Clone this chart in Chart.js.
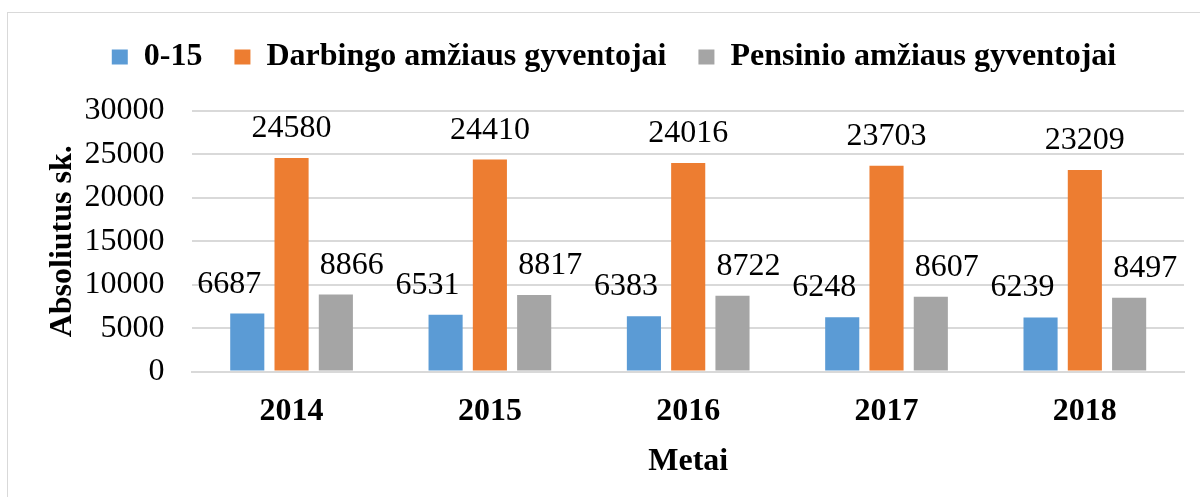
<!DOCTYPE html>
<html>
<head>
<meta charset="utf-8">
<script src="https://cdn.jsdelivr.net/npm/chart.js@4.4.1/dist/chart.umd.min.js"></script>
<style>
  html, body { margin: 0; padding: 0; background: #fff; overflow: hidden; }
  #frame {
    position: absolute; left: 7px; top: 12px;
    width: 1220px; height: 490px;
    border: 1px solid #d9d9d9;
  }
  #chart { display: block; }
</style>
</head>
<body>
<div id="frame"><canvas id="chart" width="1186" height="490"></canvas></div>
<script>
// Chart data
const YEARS = ['2014', '2015', '2016', '2017', '2018'];
const CHILDREN = [6687, 6531, 6383, 6248, 6239];
const WORKING_AGE = [24580, 24410, 24016, 23703, 23209];
const PENSION_AGE = [8866, 8817, 8722, 8607, 8497];
const Y_TICKS = [0, 5000, 10000, 15000, 20000, 25000, 30000];

const SERIF = "'Liberation Serif', 'Times New Roman', serif";

// value labels above bars, nudged sideways the way Excel spreads them
const valueLabels = {
  id: 'valueLabels',
  afterDatasetsDraw(chart) {
    const ctx = chart.ctx;
    const shift = [-18, 0, 16];
    ctx.save();
    ctx.font = '32px ' + SERIF;
    ctx.fillStyle = '#000';
    ctx.textAlign = 'center';
    ctx.textBaseline = 'alphabetic';
    chart.data.datasets.forEach((ds, i) => {
      chart.getDatasetMeta(i).data.forEach((bar, j) => {
        ctx.fillText(ds.data[j], bar.x + shift[i], bar.y - 21);
      });
    });
    ctx.restore();
  }
};

// extra room between legend and plot, and nudge the legend a bit right
const legendGap = {
  id: 'legendGap',
  beforeInit(chart) {
    const fit = chart.legend.fit;
    chart.legend.fit = function () {
      fit.call(this);
      this.height += 28;
    };
  },
  afterLayout(chart) {
    chart.legend.left += 10;
    chart.legend.right += 10;
  }
};

const barOpts = { barPercentage: 0.77, categoryPercentage: 0.67, borderWidth: 0 };

new Chart(document.getElementById('chart'), {
  type: 'bar',
  data: {
    labels: YEARS,
    datasets: [
      { label: '0-15', data: CHILDREN, backgroundColor: '#5b9bd5', ...barOpts },
      { label: 'Darbingo amžiaus gyventojai', data: WORKING_AGE, backgroundColor: '#ed7d31', ...barOpts },
      { label: 'Pensinio amžiaus gyventojai', data: PENSION_AGE, backgroundColor: '#a5a5a5', ...barOpts },
    ],
  },
  options: {
    responsive: false,
    animation: false,
    layout: { padding: { left: 16, right: 10, top: -4, bottom: 25 } },
    plugins: {
      legend: {
        display: true,
        position: 'top',
        labels: {
          color: '#000',
          font: { family: SERIF, size: 32, weight: 'bold' },
          boxWidth: 16,
          boxHeight: 15,
          padding: 32,
        },
      },
      tooltip: { enabled: false },
    },
    scales: {
      x: {
        grid: { display: false },
        border: { color: '#d9d9d9', width: 2 },
        ticks: { color: '#000', font: { family: SERIF, size: 32, weight: 'bold' }, padding: 13 },
        title: {
          display: true, text: 'Metai', color: '#000',
          font: { family: SERIF, size: 32, weight: 'bold', lineHeight: 1 }, padding: { top: 2, bottom: 0 },
        },
      },
      y: {
        min: 0, max: 30000,
        afterBuildTicks: axis => { axis.ticks = Y_TICKS.map(v => ({ value: v })); },
        grid: { color: '#d9d9d9', lineWidth: 2, drawTicks: false },
        border: { display: false },
        ticks: {
          color: '#000', font: { family: SERIF, size: 32 }, padding: 28,
          callback: v => String(v),
        },
        title: {
          display: true, text: 'Absoliutus sk.', color: '#000',
          font: { family: SERIF, size: 32, weight: 'bold' }, padding: { top: 20, bottom: -26 },
        },
      },
    },
  },
  plugins: [valueLabels, legendGap],
});
</script>
</body>
</html>
